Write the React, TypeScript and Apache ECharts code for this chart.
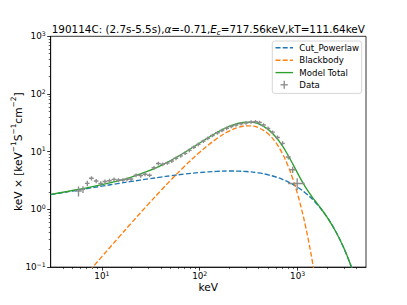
import React, { useEffect, useRef } from 'react';
import * as echarts from 'echarts';

const FONT = 'DejaVu Sans';

// Cut_Powerlaw component (keV, keV x keV^-1 s^-1 cm^-2)
const cplEnergy = [3, 4, 5, 7, 10, 15, 20, 30, 40, 50, 70, 100, 150, 200, 250, 300, 400, 500, 600, 700, 800, 1000, 1200, 1500, 2000, 2500, 3000, 3500, 3700];
const cplFlux = [1.802, 1.957, 2.084, 2.291, 2.53, 2.827, 3.051, 3.384, 3.628, 3.817, 4.093, 4.353, 4.566, 4.629, 4.606, 4.53, 4.283, 3.975, 3.646, 3.316, 2.999, 2.421, 1.932, 1.357, 0.7346, 0.3904, 0.2051, 0.1068, 0.0822];

// Blackbody component
const bbEnergy = [7.5, 10, 15, 20, 30, 40, 50, 70, 100, 150, 200, 250, 300, 350, 400, 500, 600, 700, 800, 900, 1000, 1100, 1200, 1300, 1400, 1500];
const bbFlux = [0.0864, 0.1518, 0.334, 0.5802, 1.246, 2.114, 3.149, 5.597, 9.819, 16.95, 22.77, 26.51, 28.06, 27.74, 26.04, 20.42, 14.31, 9.246, 5.631, 3.274, 1.835, 0.996, 0.528, 0.274, 0.1398, 0.0702];

// Model total
const totalEnergy = [3, 4, 5, 7, 10, 15, 20, 30, 40, 50, 70, 100, 150, 200, 250, 300, 350, 400, 500, 600, 700, 800, 900, 1000, 1100, 1200, 1300, 1400, 1500, 1700, 2000, 2500, 3000, 3500, 3700];
const totalFlux = [1.816, 1.982, 2.123, 2.366, 2.682, 3.161, 3.631, 4.63, 5.742, 6.966, 9.69, 14.17, 21.52, 27.4, 31.12, 32.59, 32.16, 30.32, 24.4, 17.96, 12.56, 8.63, 5.974, 4.256, 3.161, 2.46, 1.994, 1.669, 1.427, 1.082, 0.7356, 0.3904, 0.2051, 0.1068, 0.0822];

// Data points with errors
const dataEnergy = [5.77, 6.41, 7.1, 7.83, 8.75, 9.73, 10.76, 11.97, 13.3, 14.79, 16.44, 18.07, 19.86, 22.34, 24.95, 27.61, 30.69, 34.12, 37.76, 41.88, 46.69, 51.76, 57.2, 63.9, 70.7, 78.2, 86.9, 96.6, 108.7, 120.8, 134.9, 151.7, 168.7, 188.4, 209.9, 234.8, 264.3, 297.4, 334.4, 371.5, 408.3, 448.7, 498.9, 554.6, 623.8, 701.9, 803.9, 891.3, 990];
const dataEnergyErr = [0.45, 0.35, 0.39, 0.43, 0.48, 0.53, 0.59, 0.66, 0.73, 0.81, 0.9, 0.99, 1.09, 1.23, 1.37, 1.52, 1.69, 1.88, 2.08, 2.3, 2.57, 2.85, 3.15, 3.51, 3.89, 4.3, 4.78, 5.31, 5.98, 6.64, 7.42, 8.34, 9.28, 10.4, 11.5, 12.9, 14.5, 16.4, 18.4, 20.4, 22.5, 24.7, 27.4, 30.5, 34.3, 38.6, 48, 60, 190];
const dataFlux = [2.08, 2.23, 2.83, 3.46, 3.11, 2.81, 3.05, 3.14, 3.32, 3.23, 3.23, 3.32, 3.36, 3.9, 3.84, 4.06, 3.9, 5.26, 6.24, 6.05, 6.37, 6.9, 7.69, 8.49, 9.38, 10.57, 11.96, 13.43, 15.21, 17.07, 19.08, 21.26, 23.3, 25.44, 27.36, 29.04, 30.46, 31.42, 32.7, 33.1, 32.1, 29.0, 25.4, 21.8, 17.62, 13.98, 8.09, 4.86, 2.81];
const dataFluxErr = [0.41, 0.3, 0.3, 0.3, 0.27, 0.25, 0.25, 0.25, 0.26, 0.25, 0.25, 0.26, 0.26, 0.3, 0.3, 0.3, 0.3, 0.4, 0.45, 0.45, 0.45, 0.5, 0.55, 0.6, 0.65, 0.75, 0.85, 0.95, 1.05, 1.2, 1.3, 1.5, 1.6, 1.8, 1.9, 2.0, 2.1, 2.2, 2.3, 2.3, 2.3, 2.1, 1.9, 1.6, 1.4, 1.2, 0.8, 0.6, 0.65];

// Axis ranges and ticks (decades)
const xRange = [3, 5000];
const yRange = [0.1, 1000];
const xMajorExp = [1, 2, 3];
const yMajorExp = [-1, 0, 1, 2, 3];
const xMinorVals = [4, 5, 6, 7, 8, 9, 20, 30, 40, 50, 60, 70, 80, 90, 200, 300, 400, 500, 600, 700, 800, 900, 2000, 3000, 4000];
const yMinorVals = [0.2, 0.3, 0.4, 0.5, 0.6, 0.7, 0.8, 0.9, 2, 3, 4, 5, 6, 7, 8, 9, 20, 30, 40, 50, 60, 70, 80, 90, 200, 300, 400, 500, 600, 700, 800, 900];

const titleText = '{n|190114C: (2.7s-5.5s),}{i|α}{n|=-0.71,}{i|E}{s|c}{n|=717.56keV,kT=111.64keV}';
const xName = 'keV';
const yNameText = '{n|keV × [keV}{p|−1}{n|S}{p|−1}{n|cm}{p|−2}{n|]}';
const legendNames = ['Cut_Powerlaw', 'Blackbody', 'Model Total', 'Data'];

const L = Math.log10;

const C_BLUE = '#1f77b4';
const C_ORANGE = '#ff7f0e';
const C_GREEN = '#2ca02c';
const C_GREY = '#8c8c8c';

const tickRich = {
  b: { fontSize: 8.8, lineHeight: 12, fontFamily: FONT, color: '#000' },
  p: { fontSize: 6.2, lineHeight: 6, fontFamily: FONT, color: '#000', verticalAlign: 'top' },
};

const expLabel = (v: number) => {
  const e = Math.round(v);
  const s = e < 0 ? '−' + Math.abs(e) : String(e);
  return `{b|10}{p|${s}}`;
};

function buildOption() {
  const pair = (es: number[], fs: number[]) => es.map((e, i) => [L(e), L(fs[i])]);
  const dataItems = dataEnergy.map((e, i) => [
    L(e),
    L(dataFlux[i]),
    L(e - dataEnergyErr[i]),
    L(e + dataEnergyErr[i]),
    L(dataFlux[i] - dataFluxErr[i]),
    L(dataFlux[i] + dataFluxErr[i]),
  ]);

  const lineW = 1.35;
  const dash = [5, 2.2];

  const axisCommonX = {
    type: 'value',
    min: L(xRange[0]),
    max: L(xRange[1]),
    position: 'bottom',
    splitLine: { show: false },
  };
  const axisCommonY = {
    type: 'value',
    min: L(yRange[0]),
    max: L(yRange[1]),
    position: 'left',
    splitLine: { show: false },
  };

  const legX0 = 275.5;
  const legX1 = 293;
  const legTextX = 299.3;
  const legRows = [47.7, 60.2, 72.6, 84.8];

  const legendGraphics: any[] = [
    {
      type: 'rect',
      shape: { x: 272.3, y: 41, width: 89.4, height: 52.4, r: 2.5 },
      style: { fill: 'rgba(255,255,255,0.8)', stroke: '#cccccc', lineWidth: 0.8 },
      z: 100,
    },
    {
      type: 'line',
      shape: { x1: legX0, y1: legRows[0], x2: legX1, y2: legRows[0] },
      style: { stroke: C_BLUE, lineWidth: lineW, lineDash: dash },
      z: 101,
    },
    {
      type: 'line',
      shape: { x1: legX0, y1: legRows[1], x2: legX1, y2: legRows[1] },
      style: { stroke: C_ORANGE, lineWidth: lineW, lineDash: dash },
      z: 101,
    },
    {
      type: 'line',
      shape: { x1: legX0, y1: legRows[2], x2: legX1, y2: legRows[2] },
      style: { stroke: C_GREEN, lineWidth: lineW },
      z: 101,
    },
    {
      type: 'line',
      shape: { x1: 280.5, y1: legRows[3], x2: 287.8, y2: legRows[3] },
      style: { stroke: C_GREY, lineWidth: lineW },
      z: 101,
    },
    {
      type: 'line',
      shape: { x1: 284.2, y1: legRows[3] - 4, x2: 284.2, y2: legRows[3] + 4 },
      style: { stroke: C_GREY, lineWidth: lineW },
      z: 101,
    },
  ];
  legendNames.forEach((name, i) => {
    legendGraphics.push({
      type: 'text',
      x: legTextX,
      y: legRows[i],
      z: 101,
      style: {
        text: name,
        fontSize: 8.6,
        fontFamily: FONT,
        fill: '#000',
        align: 'left',
        textAlign: 'left',
        verticalAlign: 'middle',
        textVerticalAlign: 'middle',
      },
    });
  });

  return {
    animation: false,
    backgroundColor: '#ffffff',
    grid: {
      left: 50.7,
      right: 41,
      top: 36.3,
      bottom: 37.9,
      show: true,
      borderColor: '#000',
      borderWidth: 0.8,
      backgroundColor: 'transparent',
      containLabel: false,
      outerBoundsMode: 'none',
    },
    xAxis: [
      {
        ...axisCommonX,
        axisLine: { show: true, onZero: false, lineStyle: { color: '#000', width: 0.8 } },
        axisTick: { show: true, inside: false, length: 3.5, lineStyle: { color: '#000', width: 0.8 }, customValues: xMajorExp },
        axisLabel: { show: true, customValues: xMajorExp, margin: 3, formatter: expLabel, rich: tickRich },
      },
      {
        ...axisCommonX,
        axisLine: { show: false, onZero: false },
        axisTick: { show: true, inside: false, length: 2, lineStyle: { color: '#000', width: 0.6 }, customValues: xMinorVals.map(L) },
        axisLabel: { show: false },
      },
    ],
    yAxis: [
      {
        ...axisCommonY,
        axisLine: { show: true, onZero: false, lineStyle: { color: '#000', width: 0.8 } },
        axisTick: { show: true, inside: false, length: 3.5, lineStyle: { color: '#000', width: 0.8 }, customValues: yMajorExp },
        axisLabel: { show: true, customValues: yMajorExp, margin: 5, formatter: expLabel, rich: tickRich },
      },
      {
        ...axisCommonY,
        axisLine: { show: false, onZero: false },
        axisTick: { show: true, inside: false, length: 2, lineStyle: { color: '#000', width: 0.6 }, customValues: yMinorVals.map(L) },
        axisLabel: { show: false },
      },
    ],
    graphic: [
      {
        type: 'text',
        x: 208.3,
        y: 29,
        style: {
          text: titleText,
          fill: '#000',
          align: 'center',
          textAlign: 'center',
          verticalAlign: 'middle',
          textVerticalAlign: 'middle',
          rich: {
            n: { fontSize: 10.4, lineHeight: 14, fontFamily: FONT, fill: '#000', color: '#000' },
            i: { fontSize: 10.4, lineHeight: 14, fontFamily: FONT, fontStyle: 'italic', fill: '#000', color: '#000' },
            s: { fontSize: 7.3, lineHeight: 8, fontFamily: FONT, fontStyle: 'italic', fill: '#000', color: '#000', verticalAlign: 'bottom' },
          },
        },
      },
      {
        type: 'text',
        x: 208.3,
        y: 286.7,
        style: {
          text: xName,
          fontSize: 10.6,
          fontFamily: FONT,
          fill: '#000',
          align: 'center',
          textAlign: 'center',
          verticalAlign: 'middle',
          textVerticalAlign: 'middle',
        },
      },
      {
        type: 'text',
        x: 17.5,
        y: 151.7,
        rotation: Math.PI / 2,
        style: {
          text: yNameText,
          fill: '#000',
          align: 'center',
          textAlign: 'center',
          verticalAlign: 'middle',
          textVerticalAlign: 'middle',
          rich: {
            n: { fontSize: 10.6, lineHeight: 15, fontFamily: FONT, fill: '#000', color: '#000' },
            p: { fontSize: 7.4, lineHeight: 7, fontFamily: FONT, fill: '#000', color: '#000', verticalAlign: 'top' },
          },
        },
      },
      ...legendGraphics,
    ],
    series: [
      {
        name: legendNames[0],
        type: 'line',
        data: pair(cplEnergy, cplFlux),
        showSymbol: false,
        symbol: 'none',
        smooth: 0.4,
        clip: true,
        lineStyle: { color: C_BLUE, width: lineW, type: dash },
        z: 2,
      },
      {
        name: legendNames[1],
        type: 'line',
        data: pair(bbEnergy, bbFlux),
        showSymbol: false,
        symbol: 'none',
        smooth: 0.4,
        clip: true,
        lineStyle: { color: C_ORANGE, width: lineW, type: dash },
        z: 2,
      },
      {
        name: legendNames[2],
        type: 'line',
        data: pair(totalEnergy, totalFlux),
        showSymbol: false,
        symbol: 'none',
        smooth: 0.4,
        clip: true,
        lineStyle: { color: C_GREEN, width: lineW },
        z: 2,
      },
      {
        name: legendNames[3],
        type: 'custom',
        data: dataItems,
        clip: true,
        encode: { x: 0, y: 1 },
        z: 3,
        renderItem: (params: any, api: any) => {
          const x = api.value(0);
          const y = api.value(1);
          const pL = api.coord([api.value(2), y]);
          const pR = api.coord([api.value(3), y]);
          const pB = api.coord([x, api.value(4)]);
          const pT = api.coord([x, api.value(5)]);
          const style = { stroke: C_GREY, lineWidth: 1.35 };
          return {
            type: 'group',
            children: [
              { type: 'line', shape: { x1: pL[0], y1: pL[1], x2: pR[0], y2: pR[1] }, style },
              { type: 'line', shape: { x1: pB[0], y1: pB[1], x2: pT[0], y2: pT[1] }, style },
            ],
          };
        },
      },
    ],
  };
}

export default function App() {
  const ref = useRef<HTMLDivElement>(null);
  useEffect(() => {
    document.body.style.margin = '0';
    const chart = echarts.init(ref.current as HTMLDivElement, undefined, { renderer: 'svg' });
    chart.setOption(buildOption() as any);
    return () => {
      chart.dispose();
    };
  }, []);
  return <div ref={ref} style={{ width: 407, height: 305 }} />;
}
